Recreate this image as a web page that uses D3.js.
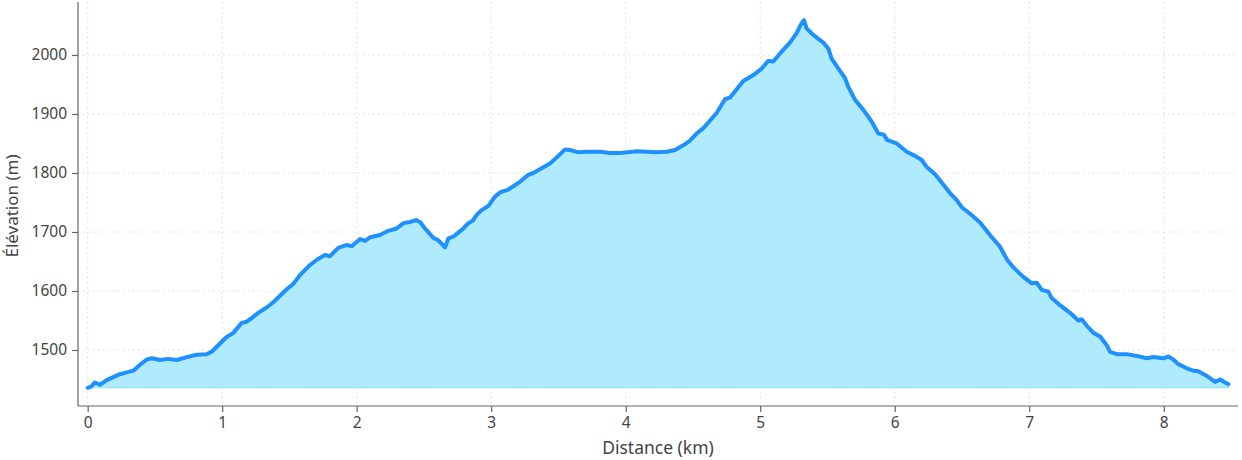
<!DOCTYPE html>
<html>
<head>
<meta charset="utf-8">
<script src="https://cdn.jsdelivr.net/npm/d3@7"></script>
<style>
  html, body { margin: 0; padding: 0; background: #fff; }
  svg { display: block; font-family: "Noto Sans", "Open Sans", sans-serif; }
</style>
</head>
<body>
<svg id="chart" width="1242" height="460"></svg>
<script>
// Distance along the track (km)
const distance = [0,0.025,0.054,0.091,0.141,0.190,0.240,0.290,0.339,0.389,0.439,0.476,0.538,0.599,0.662,0.736,0.810,0.885,0.922,0.971,
1.033,1.083,1.145,1.182,1.219,1.268,1.331,1.380,1.430,1.480,1.529,1.578,1.653,1.703,1.764,1.801,1.863,1.926,1.963,2.025,
2.062,2.099,2.173,2.235,2.297,2.347,2.396,2.441,2.471,2.508,2.570,2.607,2.632,2.657,2.681,2.718,2.755,2.793,2.830,2.862,
2.892,2.929,2.978,3.028,3.065,3.127,3.214,3.276,3.313,3.375,3.437,3.499,3.549,3.586,3.648,3.710,3.809,3.883,3.958,4.082,
4.156,4.230,4.305,4.366,4.428,4.478,4.528,4.577,4.627,4.677,4.738,4.776,4.825,4.874,4.949,5.011,5.060,5.097,5.160,5.221,
5.271,5.296,5.314,5.325,5.345,5.394,5.469,5.506,5.531,5.581,5.630,5.655,5.705,5.767,5.829,5.878,5.920,5.943,6.015,6.089,
6.151,6.201,6.238,6.300,6.349,6.411,6.461,6.498,6.560,6.634,6.708,6.783,6.833,6.882,6.956,7.019,7.056,7.093,7.142,7.167,
7.229,7.303,7.365,7.390,7.428,7.477,7.527,7.576,7.601,7.651,7.725,7.799,7.874,7.923,7.997,8.034,8.071,8.109,8.171,8.220,
8.257,8.320,8.382,8.419,8.456,8.480];
// Elevation (m)
const elevation = [1436,1438,1445,1441,1449,1454,1459,1462,1465,1475,1484,1486,1483,1485,1483,1488,1492,1493,1497,1508,
1522,1529,1546,1548,1554,1563,1572,1581,1592,1603,1612,1627,1644,1653,1661,1659,1673,1678,1676,1688,
1685,1691,1695,1702,1706,1715,1717,1720,1717,1706,1690,1686,1680,1674,1689,1692,1699,1706,1715,1719,
1729,1737,1744,1760,1767,1772,1785,1797,1800,1808,1816,1829,1840,1839,1835,1836,1836,1834,1834,1837,
1836,1835,1836,1839,1847,1855,1867,1876,1889,1902,1925,1928,1942,1956,1966,1977,1990,1989,2006,2021,
2037,2049,2056,2059,2045,2034,2021,2011,1994,1977,1961,1946,1924,1907,1887,1867,1865,1856,1850,1836,
1829,1822,1810,1798,1784,1766,1754,1742,1731,1716,1695,1675,1654,1640,1624,1613,1614,1602,1599,1588,
1576,1563,1550,1552,1541,1529,1523,1508,1497,1493,1493,1490,1486,1488,1486,1489,1484,1476,1469,1465,
1464,1456,1446,1450,1445,1442];
const xTicks = [0,1,2,3,4,5,6,7,8];
const yTicks = [1500,1600,1700,1800,1900,2000];
const xLabel = "Distance (km)";
const yLabel = "Élévation (m)";

const data = distance.map((d, i) => ({ d, e: elevation[i] }));
const minElev = d3.min(elevation);

const svg = d3.select("#chart");
const margin = { left: 78, right: 4, top: 2, bottom: 54 };
const W = 1242, H = 460;

const x = d3.scaleLinear().domain([-0.072, 8.552]).range([margin.left, W - margin.right]);
const y = d3.scaleLinear().domain([1405.1, 2089.8]).range([H - margin.bottom, margin.top]);

// grid
const grid = svg.append("g");
grid.selectAll(".gx").data(xTicks).join("line")
  .attr("x1", d => x(d)).attr("x2", d => x(d))
  .attr("y1", margin.top).attr("y2", H - margin.bottom)
  .attr("stroke", "#dedede").attr("stroke-width", 1.2).attr("stroke-dasharray", "1.5,3.5");
grid.selectAll(".gy").data(yTicks).join("line")
  .attr("y1", d => y(d)).attr("y2", d => y(d))
  .attr("x1", margin.left).attr("x2", W - margin.right)
  .attr("stroke", "#dedede").attr("stroke-width", 1.2).attr("stroke-dasharray", "1.5,3.5");

// area
const area = d3.area().x(d => x(d.d)).y0(y(minElev)).y1(d => y(d.e));
svg.append("path").datum(data).attr("d", area)
  .attr("fill", "#b0ebfd").attr("stroke", "#8fdcfb").attr("stroke-width", 1);

// line
const line = d3.line().x(d => x(d.d)).y(d => y(d.e));
svg.append("path").datum(data).attr("d", line)
  .attr("fill", "none").attr("stroke", "#1e90ff").attr("stroke-width", 4)
  .attr("stroke-linejoin", "round").attr("stroke-linecap", "round");

// axes
const axisColor = "#666";
const xAxis = svg.append("g").attr("transform", `translate(0,${H - margin.bottom})`)
  .call(d3.axisBottom(x).tickValues(xTicks).tickFormat(d3.format("d")).tickSize(6).tickPadding(5));
const yAxis = svg.append("g").attr("transform", `translate(${margin.left},0)`)
  .call(d3.axisLeft(y).tickValues(yTicks).tickFormat(d3.format("d")).tickSize(6).tickPadding(5));
[xAxis, yAxis].forEach(g => {
  g.select(".domain").attr("stroke", axisColor).attr("stroke-width", 1.2);
  g.selectAll(".tick line").attr("stroke", axisColor).attr("stroke-width", 1.2);
  g.selectAll(".tick text").attr("fill", "#444").attr("font-size", 15.5)
    .attr("font-family", '"Noto Sans", "Open Sans", sans-serif');
});
xAxis.select(".domain").attr("d", `M${margin.left},0H${W - margin.right}`);
yAxis.select(".domain").attr("d", `M0,${margin.top}V${H - margin.bottom}`);

svg.append("text").attr("x", 658).attr("y", 454)
  .attr("text-anchor", "middle").attr("fill", "#444").attr("font-size", 17.5).text(xLabel);
svg.append("text").attr("transform", `translate(18,${206}) rotate(-90)`)
  .attr("text-anchor", "middle").attr("fill", "#444").attr("font-size", 17).text(yLabel);
</script>
</body>
</html>
